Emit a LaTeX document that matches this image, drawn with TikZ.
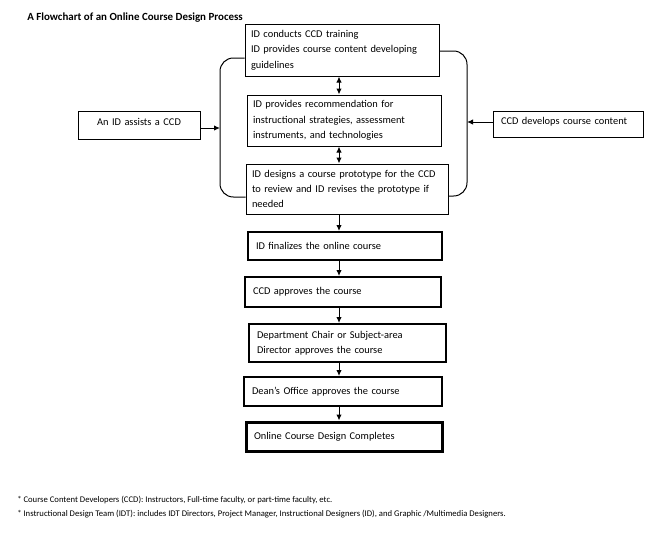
\documentclass[tikz,border=0pt]{standalone}
\usepackage{fontspec}
\setmainfont{Carlito}
\usetikzlibrary{arrows.meta}
\newcommand{\boxfont}{\fontsize{7.8pt}{11.5pt}\selectfont}
\begin{document}
\begin{tikzpicture}[x=0.75pt,y=-0.75pt,
  box/.style={draw, line width=0.75pt, rectangle, inner xsep=4.5pt, inner ysep=0pt, align=left, font=\boxfont},
  mid/.style={box, line width=1.5pt, inner xsep=6pt},
  fin/.style={box, line width=2.25pt, inner xsep=6pt},
  side/.style={box, align=center},
  conn/.style={line width=0.75pt, -{Latex[length=4.5pt,width=4pt]}},
  dconn/.style={line width=0.75pt, {Latex[length=4.5pt,width=4pt]}-{Latex[length=4.5pt,width=4pt]}},
  brace/.style={line width=0.75pt, rounded corners=10pt}]
\useasboundingbox (0,0) rectangle (672,540);

\node[anchor=west, font=\fontsize{8.2pt}{10pt}\selectfont\bfseries, inner sep=0pt] (title) at (27,18) {A Flowchart of an Online Course Design Process};

\node[box, minimum width=145.5pt, minimum height=39pt, text width=136.5pt] (b1) at (342,50)
  {ID conducts CCD training\\ID provides course content developing\\guidelines};
\node[box, minimum width=145.5pt, minimum height=38.25pt, text width=136.5pt] (b2) at (344,120.5)
  {ID provides recommendation for\\instructional strategies, assessment\\instruments, and technologies};
\node[box, minimum width=151.5pt, minimum height=37.5pt, text width=142.5pt] (b3) at (347,189)
  {ID designs a course prototype for the CCD\\to review and ID revises the prototype if\\needed};
\node[mid, minimum width=145.5pt, minimum height=21pt, text width=133.5pt] (b4) at (345,246)
  {ID finalizes the online course};
\node[mid, minimum width=147pt, minimum height=22.5pt, text width=135pt] (b5) at (343,292)
  {CCD approves the course};
\node[mid, minimum width=147.75pt, minimum height=28.5pt, text width=135.75pt] (b6) at (347.5,343)
  {Department Chair or Subject-area\\Director approves the course};
\node[mid, minimum width=148.5pt, minimum height=21.75pt, text width=136.5pt] (b7) at (343,391.5)
  {Dean’s Office approves the course};
\node[fin, minimum width=147pt, minimum height=21.75pt, text width=135pt] (b8) at (344,436.5)
  {Online Course Design Completes};

\node[side, minimum width=91.5pt, minimum height=21pt, text width=80pt, text depth=5pt] (bl) at (139,125) {An ID assists a CCD};
\node[box, minimum width=112.5pt, minimum height=19.5pt, text width=100.5pt, inner xsep=6pt, text depth=4pt] (br) at (568,124) {CCD develops course content};

\coordinate (ax) at (339,0);
\coordinate (lb) at (220,128);
\coordinate (rb) at (467,122);

\draw[brace] (b1.west |- 0,58) -- (220,58) -- (220,197) -- (b3.west |- 0,197);
\draw[brace] (b1.east |- 0,51) -- (467,51) -- (467,196) -- (b3.east |- 0,196);

\draw[conn] (bl.east |- lb) -- (lb);
\draw[conn] (br.west |- rb) -- (rb);

\draw[dconn] (b1.south -| ax) -- (b2.north -| ax);
\draw[dconn] (b2.south -| ax) -- (b3.north -| ax);
\draw[conn] (b3.south -| ax) -- (b4.north -| ax);
\draw[conn] (b4.south -| ax) -- (b5.north -| ax);
\draw[conn] (b5.south -| ax) -- (b6.north -| ax);
\draw[conn] (b6.south -| ax) -- (b7.north -| ax);
\draw[conn] (b7.south -| ax) -- (b8.north -| ax);

\node[anchor=west, font=\fontsize{6.5pt}{8pt}\selectfont, inner sep=0pt] (fn1) at (17,500)
  {* Course Content Developers (CCD): Instructors, Full-time faculty, or part-time faculty, etc.};
\node[anchor=west, font=\fontsize{6.5pt}{8pt}\selectfont, inner sep=0pt] (fn2) at (17,514)
  {* Instructional Design Team (IDT): includes IDT Directors, Project Manager, Instructional Designers (ID), and Graphic /Multimedia Designers.};
\end{tikzpicture}
\end{document}
